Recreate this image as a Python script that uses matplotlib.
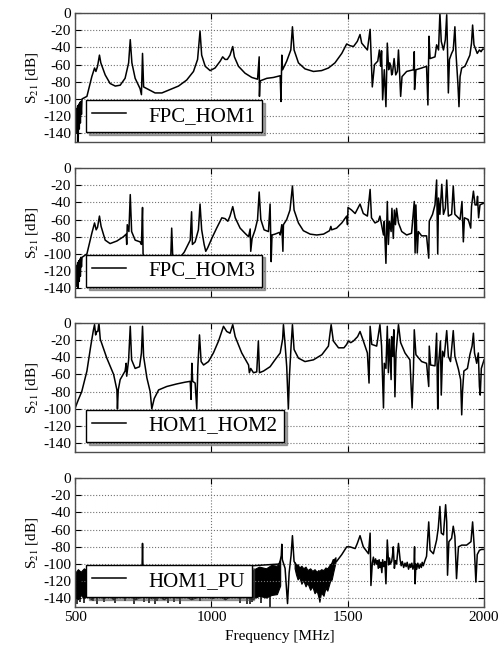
import matplotlib
matplotlib.use("Agg")
import matplotlib.pyplot as plt

plt.rcParams['font.family'] = ['Liberation Serif', 'DejaVu Serif']
plt.rcParams['mathtext.fontset'] = 'stix'
plt.rcParams['axes.unicode_minus'] = False

# ---- FPC_HOM1 ----
hom1_f = [500, 505, 507, 509, 511, 513, 515, 517, 519, 521, 523, 525, 543, 561, 571, 576, 582, 589, 594,
          610, 628, 647, 665, 683, 696, 702, 708, 720, 738, 743, 747, 751, 769, 793, 818, 848, 879, 909,
          934, 949, 958, 964, 977, 995, 1013, 1032, 1041, 1050, 1058, 1068, 1078, 1084, 1099, 1123, 1148,
          1169, 1175, 1176, 1178, 1203, 1227, 1252, 1255, 1258, 1261, 1276, 1291, 1297, 1303, 1319, 1343,
          1374, 1404, 1429, 1453, 1478, 1496, 1508, 1521, 1535, 1545, 1551, 1572, 1582, 1587, 1590, 1598,
          1610, 1616, 1621, 1624, 1628, 1634, 1640, 1645, 1650, 1654, 1658, 1661, 1664, 1670, 1676, 1682,
          1686, 1689, 1694, 1699, 1716, 1741, 1744, 1745, 1750, 1771, 1789, 1794, 1798, 1802, 1820, 1826,
          1833, 1838, 1843, 1851, 1858, 1863, 1866, 1869, 1873, 1881, 1887, 1893, 1897, 1904, 1908, 1912,
          1918, 1930, 1948, 1954, 1958, 1963, 1970, 1975, 1983, 1989, 1995, 2000]
hom1_db = [-110, -112, -140, -108, -150, -106, -135, -104, -128, -103, -118, -100, -97, -74, -64, -68, -62, -49, -58,
           -72, -82, -85, -84, -76, -58, -31, -58, -76, -88, -95, -47, -86, -89, -93, -93, -89, -85, -78,
           -68, -54, -21, -49, -62, -67, -64, -56, -51, -54, -54, -49, -39, -51, -62, -70, -75,
           -77, -51, -97, -79, -76, -75, -73, -103, -49, -66, -56, -43, -16, -43, -58, -65,
           -68, -67, -64, -58, -47, -36, -38, -39, -33, -25, -35, -43, -19, -62, -86, -60,
           -56, -43, -62, -44, -101, -66, -109, -35, -66, -58, -62, -72, -70, -53, -72, -68,
           -43, -62, -97, -74, -68, -66, -45, -89, -66, -64, -62, -107, -27, -53, -51, -37,
           -43, 0, -33, -43, -31, -2, -43, -93, -54, -47, -43, -16, -47, -82, -109, -74,
           -64, -62, -49, -35, -14, -37, -43, -47, -43, -45, -42, -42]

# ---- FPC_HOM3 ----
hom3_f = [500, 505, 507, 509, 511, 513, 515, 517, 519, 521, 523, 525, 543, 561, 571, 577, 582, 589, 595,
          610, 628, 653, 677, 687, 689, 691, 697, 702, 707, 720, 738, 743, 747, 749, 760, 800, 850, 854,
          858, 880, 900, 916, 922, 927, 930, 940, 952, 958, 964, 973, 979, 986, 1001, 1019, 1038, 1050,
          1060, 1068, 1078, 1087, 1105, 1123, 1136, 1142, 1144, 1149, 1160, 1169, 1175, 1181, 1193, 1209,
          1215, 1219, 1222, 1233, 1249, 1252, 1258, 1262, 1264, 1276, 1288, 1297, 1303, 1319, 1337, 1362,
          1386, 1411, 1433, 1438, 1441, 1459, 1478, 1496, 1499, 1501, 1514, 1527, 1545, 1557, 1572, 1582,
          1587, 1600, 1612, 1618, 1624, 1631, 1634, 1640, 1645, 1649, 1653, 1659, 1662, 1667, 1671, 1675,
          1679, 1686, 1698, 1716, 1734, 1744, 1747, 1750, 1755, 1759, 1771, 1789, 1797, 1799, 1811, 1820,
          1826, 1830, 1833, 1838, 1845, 1851, 1858, 1863, 1869, 1881, 1887, 1893, 1912, 1919, 1924, 1928,
          1942, 1951, 1954, 1961, 1967, 1973, 1976, 1980, 1985, 1991, 2000]
hom3_db = [-112, -115, -138, -110, -140, -108, -132, -106, -126, -104, -115, -104, -100, -76, -64, -72, -69, -56, -68,
           -84, -88, -85, -80, -77, -89, -66, -74, -31, -74, -84, -86, -89, -46, -100, -110, -112, -110, -70,
           -105, -106, -98, -88, -84, -51, -89, -86, -72, -42, -72, -89, -97, -93, -82, -70, -58, -59,
           -62, -56, -45, -58, -70, -76, -80, -71, -97, -82, -72, -60, -28, -60, -72, -74,
           -42, -109, -78, -77, -75, -78, -66, -97, -66, -60, -49, -21, -49, -64, -73, -77,
           -78, -77, -73, -68, -72, -70, -64, -56, -66, -46, -49, -53, -42, -53, -56, -25,
           -58, -64, -62, -56, -66, -78, -62, -111, -39, -89, -62, -74, -47, -82, -49, -66,
           -47, -64, -74, -78, -76, -39, -99, -43, -99, -74, -79, -79, -105, -62, -54, -43,
           -14, -100, -35, -54, -19, -54, -47, -14, -56, -54, -21, -54, -60, -39, -86, -58,
           -60, -70, -45, -27, -43, -43, -33, -58, -43, -42, -41]

# ---- HOM1_HOM2 ----
h12_f = [500, 512, 524, 543, 557, 567, 571, 575, 579, 583, 587, 592, 616, 641, 653, 655, 658, 665, 683, 687,
         689, 696, 702, 707, 720, 736, 743, 747, 751, 763, 775, 781, 790, 806, 836, 873, 903, 922, 925, 928,
         931, 940, 946, 950, 956, 962, 971, 989, 1007, 1026, 1044, 1056, 1068, 1078, 1087, 1111, 1136, 1139,
         1144, 1154, 1166, 1172, 1176, 1191, 1215, 1233, 1252, 1261, 1264, 1270, 1276, 1282, 1286, 1292,
         1297, 1303, 1319, 1343, 1374, 1405, 1429, 1439, 1447, 1466, 1486, 1496, 1502, 1511, 1521, 1536,
         1545, 1555, 1572, 1578, 1582, 1588, 1606, 1618, 1624, 1631, 1634, 1640, 1645, 1649, 1653, 1655,
         1659, 1661, 1665, 1669, 1673, 1677, 1686, 1694, 1710, 1728, 1736, 1741, 1744, 1750, 1771, 1789,
         1797, 1799, 1804, 1820, 1826, 1830, 1833, 1840, 1843, 1848, 1854, 1863, 1869, 1877, 1887, 1893,
         1906, 1914, 1918, 1921, 1926, 1939, 1948, 1956, 1961, 1965, 1973, 1979, 1983, 1986, 1990, 2000]
h12_db = [-99, -89, -80, -56, -27, -8, -2, -14, -10, -10, 0, -19, -41, -60, -78, -100, -78, -66, -56, -47,
          -62, -43, -4, -43, -53, -51, -35, -4, -39, -64, -80, -100, -88, -78, -74, -71, -69, -68, -89, -47,
          -68, -70, -100, -51, -14, -45, -49, -45, -35, -21, -4, -10, -12, -2, -16, -35, -49, -58,
          -53, -58, -57, -21, -58, -56, -51, -43, -35, -19, -2, -25, -51, -100, -62, -27,
          -2, -31, -41, -45, -43, -37, -27, -2, -21, -29, -29, -25, -21, -23, -21, -16,
          -10, -19, -35, -70, -4, -25, -27, -2, -27, -99, -47, -53, -4, -58, -19, -35,
          -66, -16, -39, -8, -86, -35, -2, -23, -35, -43, -99, -54, -8, -37, -45, -47,
          -74, -27, -49, -50, -12, -100, -49, -21, -84, -33, -39, -9, -39, -45, -9, -39,
          -54, -66, -107, -80, -56, -53, -37, -27, -12, -35, -47, -35, -74, -84, -53, -43]

# ---- HOM1_PU ----
pu_f = [500, 745, 747, 749, 1250, 1256, 1258, 1260, 1270, 1279, 1285, 1292, 1297, 1303, 1330, 1380, 1430,
        1447, 1459, 1478, 1496, 1508, 1527, 1535, 1545, 1557, 1576, 1582, 1585, 1590, 1594, 1598, 1602,
        1606, 1609, 1612, 1615, 1618, 1621, 1625, 1628, 1632, 1636, 1640, 1645, 1650, 1653, 1656, 1661,
        1664, 1667, 1671, 1675, 1679, 1686, 1692, 1696, 1700, 1705, 1710, 1714, 1718, 1723, 1728, 1731,
        1735, 1739, 1743, 1745, 1747, 1750, 1753, 1757, 1762, 1766, 1770, 1773, 1777, 1782, 1789, 1797,
        1802, 1814, 1826, 1832, 1838, 1843, 1851, 1859, 1863, 1866, 1871, 1881, 1887, 1893, 1899, 1906,
        1918, 1936, 1952, 1958, 1964, 1970, 1975, 1983, 1991, 2000]
pu_db = [-115, -110, -76, -110, -100, -90, -77, -95, -105, -146, -110, -90, -67, -97, -110, -115, -110,
         -95, -97, -89, -80, -80, -82, -76, -67, -80, -88, -64, -125, -99, -92, -101, -94,
         -100, -96, -105, -95, -104, -98, -110, -95, -103, -97, -123, -72, -101, -93, -100, -97,
         -90, -80, -105, -96, -100, -76, -95, -102, -97, -104, -99, -103, -98, -106, -100, -104,
         -99, -106, -101, -80, -123, -100, -106, -99, -105, -100, -104, -98, -102, -97, -91, -51,
         -84, -88, -72, -58, -33, -64, -66, -31, -51, -113, -74, -70, -56, -68, -117, -80,
         -78, -78, -74, -51, -80, -121, -89, -84, -83, -83]
# noisy band envelopes (read from the dense black regions)
band1_f = [500, 510, 520, 532, 545, 558, 570, 585, 600, 620, 640, 660, 680, 700, 720, 740, 760, 780, 800,
           825, 850, 875, 900, 925, 950, 975, 1000, 1025, 1050, 1075, 1100, 1125, 1150, 1175, 1200, 1220, 1240, 1252]
band1_hi = [-110, -106, -109, -105, -108, -106, -110, -105, -108, -106, -109, -105, -108, -106, -110, -105, -108, -106, -109,
            -105, -108, -106, -110, -105, -108, -106, -109, -105, -108, -106, -109, -104, -107, -103, -105, -101, -102, -95]
band1_lo = [-138, -141, -136, -140, -137, -141, -138, -136, -140, -137, -141, -136, -139, -137, -141, -138, -136, -140, -137,
            -141, -136, -139, -137, -141, -138, -136, -140, -137, -141, -136, -139, -138, -141, -137, -139, -136, -135, -125]
band2_f = [1305, 1310, 1316, 1322, 1330, 1337, 1345, 1352, 1362, 1370, 1378, 1386, 1392, 1396, 1402, 1411,
           1418, 1425, 1435, 1441, 1447, 1455]
band2_hi = [-98, -102, -100, -104, -102, -105, -103, -107, -105, -108, -106, -109, -107, -108, -106, -107,
            -104, -105, -100, -99, -95, -92]
band2_lo = [-105, -112, -118, -115, -123, -119, -126, -122, -130, -126, -134, -131, -138, -144, -133, -137,
            -128, -131, -120, -118, -109, -98]
spike_f = [506, 516, 531, 567, 579, 604, 647, 683, 714, 751, 769, 793, 799, 842, 861, 885, 958, 1105, 1129, 1142, 1148, 1180, 1215]
spike_db = [-146, -144, -145, -143, -146, -144, -145, -143, -146, -144, -145, -146, -143, -145, -144, -146, -143, -145, -146, -147, -144, -145, -150]

panels = [
    (hom1_f, hom1_db, 'FPC_HOM1'),
    (hom3_f, hom3_db, 'FPC_HOM3'),
    (h12_f, h12_db, 'HOM1_HOM2'),
    (pu_f, pu_db, 'HOM1_PU'),
]

fig = plt.figure(figsize=(4.98, 6.51), dpi=100)
left, width, height = 0.151, 0.821, 0.198
bottoms = [0.782, 0.544, 0.306, 0.0676]

for i, (f, db, name) in enumerate(panels):
    ax = fig.add_axes([left, bottoms[i], width, height])
    ax.plot(f, db, '-', color='k', linewidth=1.1, label=name)
    if name == 'HOM1_PU':
        ax.fill_between(band1_f, band1_lo, band1_hi, color='k', linewidth=0.8)
        ax.fill_between(band2_f, band2_lo, band2_hi, color='k', linewidth=0.8)
        ax.vlines(spike_f, -136, spike_db, color='k', linewidth=1.1)
    ax.set_xlim(500, 2000)
    ax.set_ylim(-150, 0)
    ax.set_yticks(range(-140, 1, 20))
    ax.set_xticks([500, 1000, 1500, 2000])
    ax.grid(True, color='0.45', linestyle=':', linewidth=0.8)
    ax.tick_params(direction='in', top=True, right=True, length=4, labelsize=11, pad=3)
    for sp in ax.spines.values():
        sp.set_color('0.3')
        sp.set_linewidth(1.0)
    ax.set_ylabel('S$_{21}$ [dB]', fontsize=11, labelpad=2)
    if i < 3:
        ax.set_xticklabels([])
    else:
        ax.set_xlabel('Frequency [MHz]', fontsize=11)
    leg = ax.legend(loc='lower left', bbox_to_anchor=(0.027, 0.078), borderaxespad=0,
                    fontsize=15, shadow=True, fancybox=False, framealpha=1,
                    edgecolor='k', handlelength=1.6, handletextpad=1.1, borderpad=0.3)
    leg.get_frame().set_linewidth(1.0)

fig.savefig('out.png', dpi=100)
